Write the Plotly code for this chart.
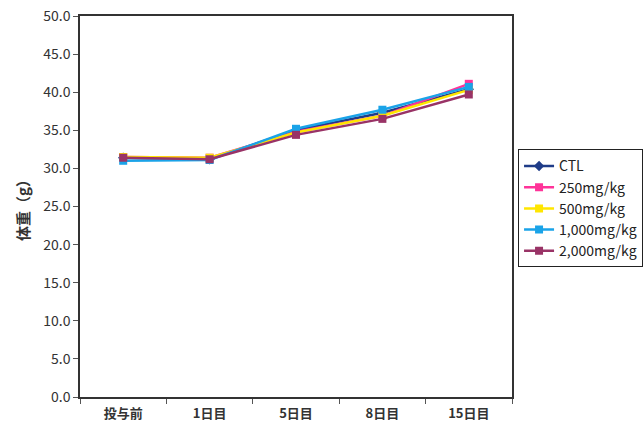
import plotly.graph_objects as go

categories = ["投与前", "1日目", "5日目", "8日目", "15日目"]
series_names = ["CTL", "250mg/kg", "500mg/kg", "1,000mg/kg", "2,000mg/kg"]
ctl = [31.4, 31.2, 35.0, 37.3, 40.4]
d250 = [31.5, 31.4, 34.8, 36.9, 41.1]
d500 = [31.5, 31.4, 34.7, 36.9, 40.3]
d1000 = [31.0, 31.1, 35.2, 37.7, 40.7]
d2000 = [31.4, 31.2, 34.4, 36.5, 39.7]
y_ticks = [0, 5, 10, 15, 20, 25, 30, 35, 40, 45, 50]

values = [ctl, d250, d500, d1000, d2000]
colors = ["#1F3C88", "#FF3399", "#FFE600", "#1AA3E8", "#993366"]
symbols = ["diamond", "square", "square", "square", "square"]

fig = go.Figure()
for name, vals, c, s in zip(series_names, values, colors, symbols):
    fig.add_trace(go.Scatter(
        x=categories, y=vals, name=name, mode="lines+markers",
        line=dict(color=c, width=2.5),
        marker=dict(symbol=s, size=8, color=c),
    ))

font_family = "Noto Sans CJK JP, Noto Sans, Arial"
fig.update_layout(
    width=643, height=432,
    margin=dict(l=80, r=131, t=16, b=35, autoexpand=False),
    plot_bgcolor="white", paper_bgcolor="white",
    font=dict(family=font_family, size=13, color="#333333"),
    showlegend=True,
    legend=dict(
        x=1.014, y=0.495, xanchor="left", yanchor="middle",
        bordercolor="#222222", borderwidth=1,
        font=dict(size=14, color="#222222"),
        tracegroupgap=0, itemwidth=30,
    ),
    xaxis=dict(
        type="category", tickson="boundaries", automargin=False,
        showline=True, linecolor="#333333", linewidth=1.5, mirror=True,
        ticks="outside", ticklen=5, tickcolor="#555555",
        showgrid=False, tickfont=dict(size=13, color="#333333", weight="bold"),
        ticklabelstandoff=4,
        range=[-0.5, 4.5],
    ),
    yaxis=dict(
        range=[0, 50], tickvals=y_ticks, ticktext=[f"{v:.1f}" for v in y_ticks],
        automargin=False,
        showline=True, linecolor="#333333", linewidth=1.5, mirror=True,
        ticks="outside", ticklen=5, tickcolor="#555555",
        showgrid=False, zeroline=False,
        tickfont=dict(size=14, color="#333333"),
        title=dict(text="体重（g）", font=dict(size=15, color="#333333", weight="bold"), standoff=10),
    ),
)

fig.write_html("out.html", config={"displayModeBar": False},
               post_script="document.body.style.margin='0';")
